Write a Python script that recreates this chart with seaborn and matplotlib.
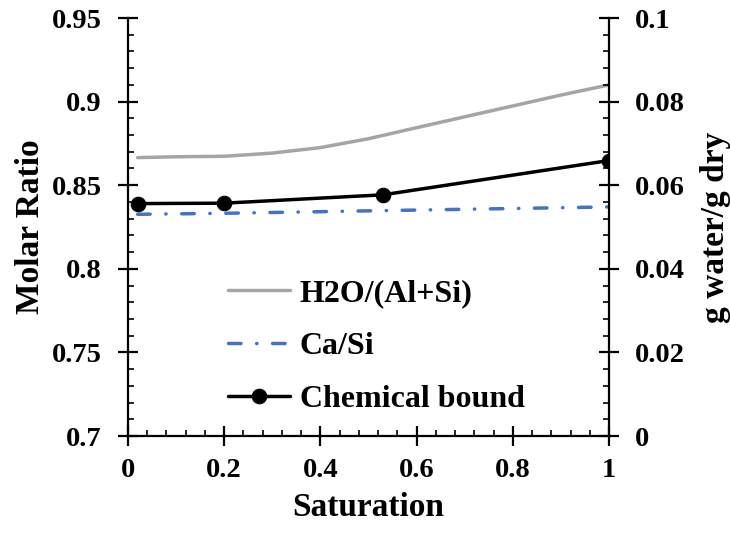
import matplotlib
matplotlib.use("Agg")
import matplotlib.pyplot as plt
import seaborn as sns
import numpy as np
import pandas as pd
from matplotlib.ticker import AutoMinorLocator, FormatStrFormatter

# ---- data ----
h2o_x = [0.02, 0.1, 0.2, 0.3, 0.4, 0.5, 0.6, 0.7, 0.8, 0.9, 1.0]
h2o_y = [0.8665, 0.867, 0.8673, 0.8692, 0.8725, 0.8778, 0.8844, 0.8909, 0.8974, 0.9039, 0.9100]

casi_x = [0.02, 0.2, 0.53, 1.0]
casi_y = [0.8326, 0.8332, 0.8348, 0.8370]

bound_x = [0.02, 0.2, 0.53, 1.0]
bound_y = [0.0556, 0.0557, 0.0577, 0.0659]

x_ticks = [0, 0.2, 0.4, 0.6, 0.8, 1.0]
left_ticks = [0.7, 0.75, 0.8, 0.85, 0.9, 0.95]
right_ticks = [0, 0.02, 0.04, 0.06, 0.08, 0.1]

series_labels = ["H2O/(Al+Si)", "Ca/Si", "Chemical bound"]

sns.set_style("white")
plt.rcParams["font.family"] = ["Liberation Serif", "DejaVu Serif"]
plt.rcParams["font.weight"] = "bold"
plt.rcParams["axes.labelweight"] = "bold"
for k in ["text.color", "axes.labelcolor", "xtick.color", "ytick.color", "axes.edgecolor"]:
    plt.rcParams[k] = "black"

TICK_FS = 20.5
LABEL_FS = 24
LEG_FS = 23

fig = plt.figure(figsize=(7.30, 5.33), dpi=100)
ax = fig.add_axes([128 / 730, (533 - 436) / 533, 481 / 730, 418 / 533])
ax2 = ax.twinx()

GRAY = "#A5A5A5"
BLUE = "#4472C4"
LW = 2.5

sns.lineplot(x=h2o_x, y=h2o_y, ax=ax, color=GRAY, linewidth=LW,
             label=series_labels[0], legend=False, solid_capstyle="round")
sns.lineplot(x=casi_x, y=casi_y, ax=ax, color=BLUE, linewidth=LW,
             linestyle=(0, (3.6, 4.5, 0.1, 4.5)), dash_capstyle="round",
             label=series_labels[1], legend=False)
sns.lineplot(x=bound_x, y=bound_y, ax=ax2, color="black", linewidth=LW,
             marker="o", markersize=10.5, markeredgecolor="black",
             label=series_labels[2], legend=False)

ax.set_xlim(0, 1)
ax.set_ylim(0.7, 0.95)
ax2.set_ylim(0, 0.1)

ax.set_xticks(x_ticks)
ax.set_yticks(left_ticks)
ax2.set_yticks(right_ticks)
for a in (ax, ax2):
    a.xaxis.set_major_formatter(FormatStrFormatter("%g"))
    a.yaxis.set_major_formatter(FormatStrFormatter("%g"))
ax.xaxis.set_minor_locator(AutoMinorLocator(5))
ax.yaxis.set_minor_locator(AutoMinorLocator(5))
ax2.yaxis.set_minor_locator(AutoMinorLocator(5))

for a in (ax, ax2):
    a.spines["top"].set_visible(False)
    for s in a.spines.values():
        s.set_linewidth(1.6)
        s.set_color("black")
ax.spines["right"].set_visible(False)
ax2.spines["left"].set_visible(False)
ax2.spines["bottom"].set_visible(False)

MAJ_LEN = 14
MIN_LEN = 4.5
ax.tick_params(axis="x", which="major", direction="inout", length=MAJ_LEN, width=1.6,
               labelsize=TICK_FS, pad=9, bottom=True, top=False)
ax.tick_params(axis="x", which="minor", direction="in", length=MIN_LEN, width=1.2,
               bottom=True, top=False)
ax.tick_params(axis="y", which="major", direction="inout", length=MAJ_LEN, width=1.6,
               labelsize=TICK_FS, pad=12, left=True, right=False)
ax.tick_params(axis="y", which="minor", direction="in", length=MIN_LEN, width=1.2,
               left=True, right=False)
ax2.tick_params(axis="y", which="major", direction="inout", length=MAJ_LEN, width=1.6,
                labelsize=TICK_FS, pad=11.5, right=True, left=False)
ax2.tick_params(axis="y", which="minor", direction="in", length=MIN_LEN, width=1.2,
                right=True, left=False)
for a in (ax, ax2):
    for lab in a.get_xticklabels() + a.get_yticklabels():
        lab.set_fontweight("bold")

ax.set_xlabel("Saturation", fontsize=LABEL_FS, fontweight="bold")
ax.set_ylabel("Molar Ratio", fontsize=LABEL_FS, fontweight="bold")
ax2.set_ylabel("g water/g dry", fontsize=LABEL_FS, fontweight="bold")
ax.yaxis.set_label_coords(-0.17, 0.5)
ax2.yaxis.set_label_coords(1.19, 0.5)
ax.xaxis.set_label_coords(0.5, -0.133)

h1, l1 = ax.get_legend_handles_labels()
h2, l2 = ax2.get_legend_handles_labels()
leg = ax2.legend(h1 + h2, l1 + l2, loc="upper left", bbox_to_anchor=(0.208, 0.376),
                 frameon=False, prop={"weight": "bold", "size": LEG_FS},
                 borderpad=0, borderaxespad=0, handlelength=1.95, handletextpad=0.3,
                 labelspacing=0.74)

fig.savefig("out.png", dpi=100)
